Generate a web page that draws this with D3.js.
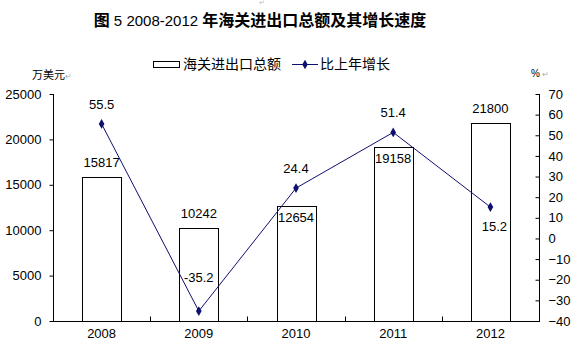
<!DOCTYPE html>
<html><head><meta charset="utf-8">
<script src="https://cdn.jsdelivr.net/npm/d3@7/dist/d3.min.js"></script>
<style>
body{margin:0;background:#fff;}
svg{display:block;font-family:"Liberation Sans","Noto Sans CJK SC",sans-serif;}
</style></head><body>
<svg id="c" width="578" height="360"></svg>
<script>
const years = ["2008","2009","2010","2011","2012"];
const totals = [15817, 10242, 12654, 19158, 21800];
const growth = [55.5, -35.2, 24.4, 51.4, 15.2];
const leftTicks = [0,5000,10000,15000,20000,25000];
const rightTicks = [-40,-30,-20,-10,0,10,20,30,40,50,60,70];
const barLabelPos = ["above","above","inside","inside","above"];
const lineLabelPos = ["above","above","above","above","below"];

const svg = d3.select("#c");
const L = 53, R = 539, T = 94, B = 321;
const navy = "#0f0f6e";

const x = d3.scaleBand().domain(years).range([L, R]).padding(0);
const yL = d3.scaleLinear().domain([0, 25000]).range([B, T]);
const yR = d3.scaleLinear().domain([-40, 70]).range([B, T]);
const bw = x.bandwidth() * 0.4;

// title
const title = svg.append("text").attr("x", 260).attr("y", 26).attr("text-anchor","middle")
  .attr("font-size", 16).attr("fill","#000");
title.append("tspan").attr("font-weight","bold").attr("font-family","Noto Sans CJK SC").text("图");
title.append("tspan").attr("font-size",15).text(" 5 2008-2012 ");
title.append("tspan").attr("font-weight","bold").attr("font-family","Noto Sans CJK SC").text("年海关进出口总额及其增长速度");

// paragraph mark
svg.append("text").attr("x",259).attr("y",5).attr("font-size",7).attr("fill","#bbb").text("↵");

// legend
svg.append("rect").attr("x",153.5).attr("y",61.5).attr("width",26).attr("height",6)
  .attr("fill","#fff").attr("stroke","#000");
svg.append("text").attr("x",183).attr("y",69).attr("font-size",14).attr("font-family","Noto Sans CJK SC").text("海关进出口总额");
svg.append("line").attr("x1",292).attr("x2",318).attr("y1",64.5).attr("y2",64.5).attr("stroke",navy);
svg.append("path").attr("d",d3.symbol(d3.symbolDiamond,26)()).attr("transform","translate(305,64.5)").attr("fill",navy);
svg.append("text").attr("x",320).attr("y",69).attr("font-size",14).attr("font-family","Noto Sans CJK SC").text("比上年增长");

// axis titles
svg.append("text").attr("x",32).attr("y",79).attr("font-size",11).attr("font-family","Noto Sans CJK SC").text("万美元");
svg.append("text").attr("x",65).attr("y",79).attr("font-size",8).attr("fill","#aaa").text("↵");
svg.append("text").attr("x",531).attr("y",77).attr("font-size",10).text("%");
svg.append("text").attr("x",542).attr("y",77).attr("font-size",8).attr("fill","#aaa").text("↵");

// bars
svg.append("g").selectAll("rect").data(years).join("rect")
  .attr("x", (d,i) => Math.round(x(d) + (x.bandwidth()-bw)/2) + 0.5)
  .attr("y", (d,i) => Math.round(yL(totals[i])) + 0.5)
  .attr("width", Math.round(bw))
  .attr("height", (d,i) => Math.round(B - yL(totals[i])))
  .attr("fill","#fff").attr("stroke","#000");

// bar labels
svg.append("g").selectAll("text").data(years).join("text")
  .attr("x", d => x(d) + x.bandwidth()/2)
  .attr("y", (d,i) => barLabelPos[i] === "above" ? yL(totals[i]) - 10 : yL(totals[i]) + 16)
  .attr("text-anchor","middle").attr("font-size",13).text((d,i) => totals[i]);

// axes
const axL = d3.axisLeft(yL).tickValues(leftTicks).tickFormat(d3.format("d")).tickSize(4).tickPadding(8);
const gL = svg.append("g").attr("transform",`translate(${L+0.5},0)`).call(axL);
gL.selectAll("text").attr("font-size",13).attr("fill","#000").attr("font-family","Liberation Sans");
gL.select(".domain").attr("d",`M0,${T}V${B}`);

const axR = d3.axisRight(yR).tickValues(rightTicks).tickSize(-4).tickPadding(8);
const gR = svg.append("g").attr("transform",`translate(${R+0.5},0)`).call(axR);
gR.selectAll("text").attr("font-size",13).attr("fill","#000").attr("font-family","Liberation Sans").attr("dx",1);
gR.select(".domain").attr("d",`M0,${T}V${B}`);

const gX = svg.append("g").attr("transform",`translate(0,${B+0.5})`);
gX.append("line").attr("x1",L).attr("x2",R+1).attr("stroke","#000");
gX.selectAll("line.t").data(years.slice(1)).join("line").attr("class","t")
  .attr("x1", d => Math.round(x(d))+0.5).attr("x2", d => Math.round(x(d))+0.5)
  .attr("y1",0).attr("y2",-5).attr("stroke","#000");
gX.selectAll("text").data(years).join("text")
  .attr("x", d => x(d) + x.bandwidth()/2).attr("y", 16)
  .attr("text-anchor","middle").attr("font-size",13).text(d => d);

// line
const line = d3.line().x((d,i) => x(years[i]) + x.bandwidth()/2).y(d => yR(d));
svg.append("path").datum(growth).attr("d", line).attr("fill","none").attr("stroke",navy).attr("stroke-width",1);
svg.append("g").selectAll("path").data(growth).join("path")
  .attr("d", d3.symbol(d3.symbolDiamond, 28)())
  .attr("transform",(d,i) => `translate(${x(years[i]) + x.bandwidth()/2},${yR(d)})`)
  .attr("fill",navy);
svg.append("g").selectAll("text").data(growth).join("text")
  .attr("x",(d,i) => x(years[i]) + x.bandwidth()/2 + (lineLabelPos[i]==="below" ? 4 : 0))
  .attr("y",(d,i) => lineLabelPos[i]==="above" ? yR(d) - (i===1 ? 29 : 15) : yR(d) + 24)
  .attr("text-anchor","middle").attr("font-size",13).text(d => d.toFixed(1));
</script>
</body></html>
